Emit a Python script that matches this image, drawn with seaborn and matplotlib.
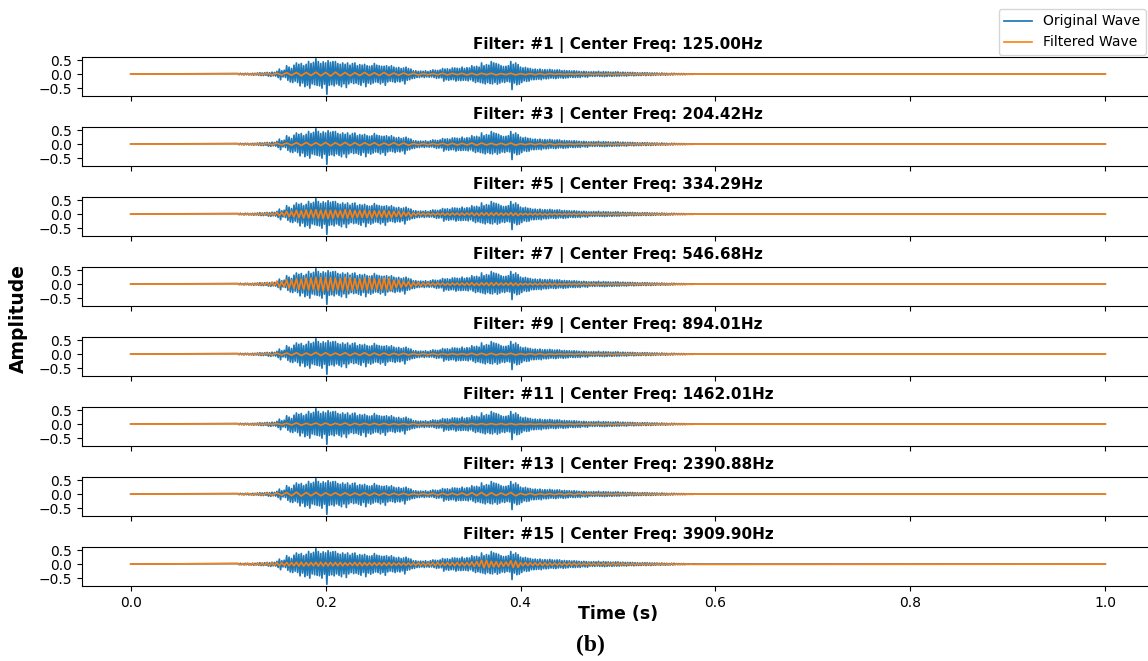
import matplotlib
matplotlib.use('Agg')
import matplotlib.pyplot as plt
import numpy as np
import seaborn as sns

plt.rcParams['path.simplify'] = False

# Filter info for each panel
filter_ids = [1, 3, 5, 7, 9, 11, 13, 15]
center_freqs = [125.00, 204.42, 334.29, 546.68, 894.01, 1462.01, 2390.88, 3909.90]

# Original wave peaks (x0.01), one row per 10 ms, sampled every 1.25 ms from 0.11 s
orig_wave = [
    2, -2, 3, -2, 2, -3, 3, -2,
    3, -3, 2, -3, 3, -4, 3, -3,
    4, -4, 5, -5, 4, -5, 5, -4,
    6, -7, 5, -8, 7, -6, 6, -7,
    10, -12, 18, -20, 12, -10, 14, -12,
    30, -22, 25, -28, 20, -30, 32, -25,
    40, -30, 35, -42, 38, -32, 30, -45,
    35, -40, 45, -50, 38, -35, 42, -38,
    55, -40, 45, -42, 38, -50, 44, -36,
    40, -72, 48, -40, 42, -38, 45, -42,
    45, -35, 38, -40, 35, -45, 40, -35,
    35, -48, 40, -35, 32, -30, 38, -34,
    40, -32, 30, -36, 34, -40, 32, -30,
    35, -45, 30, -32, 28, -36, 30, -32,
    38, -28, 32, -30, 30, -35, 28, -30,
    28, -40, 30, -28, 26, -25, 30, -27,
    25, -30, 22, -26, 24, -28, 20, -24,
    22, -35, 25, -22, 20, -20, 18, -16,
    12, -15, 12, -12, 10, -12, 11, -10,
    10, -12, 12, -10, 9, -11, 12, -10,
    15, -12, 14, -15, 13, -14, 15, -13,
    20, -25, 18, -20, 19, -22, 17, -20,
    22, -20, 22, -25, 21, -22, 20, -23,
    25, -22, 20, -22, 23, -24, 22, -20,
    30, -25, 26, -30, 28, -27, 25, -30,
    40, -32, 30, -35, 34, -30, 32, -34,
    45, -35, 40, -30, 38, -36, 35, -32,
    30, -28, 27, -30, 28, -26, 30, -28,
    45, -55, 35, -32, 40, -38, 34, -36,
    25, -30, 22, -24, 24, -26, 21, -25,
    20, -20, 17, -20, 18, -19, 16, -18,
    18, -20, 15, -16, 16, -17, 15, -16,
    17, -14, 15, -15, 14, -16, 15, -14,
    15, -13, 12, -15, 13, -14, 12, -13,
    12, -11, 11, -12, 12, -12, 11, -11,
    10, -12, 9, -9, 10, -10, 9, -11,
    8, -7, 8, -8, 9, -8, 8, -7,
    10, -8, 7, -8, 9, -9, 8, -8,
    8, -7, 7, -8, 7, -7, 8, -7,
    8, -7, 6, -6, 7, -6, 6, -7,
    6, -5, 6, -5, 6, -6, 5, -5,
    5, -5, 4, -5, 5, -4, 5, -5,
    5, -4, 4, -5, 4, -4, 4, -4,
    4, -3, 3, -4, 4, -3, 3, -4,
    3, -3, 2, -3, 3, -3, 3, -2,
    2, -2, 2, -2, 2, -2, 2, -2,
    1, -1, 1, -1, 1, -1, 1, 0,
]

# Filtered wave peaks (x0.01) from 0.11 s; sample spacing per filter in filt_steps
filt_1 = [
    1, -1, 1, -1, 1, -1, 2, -2,
    3, -3, 5, -4, 6, -6, 6, -5, 7, -6,
    6, -7, 7, -6, 6, -6, 5, -5, 6, -5,
    5, -5, 6, -5, 4, -4, 4, -3, 3, -3,
    2, -2, 2, -2, 3, -3, 3, -2, 3, -3,
    3, -3, 3, -2, 3, -3, 2, -2, 3, -3,
    2, -2, 2, -2, 2, -2, 2, -1, 1, -1,
    1, -1, 1, -1, 1, -1, 1, -1, 1, -1,
    1, -1, 1, -1, 1, -1, 1, -1, 0, 0,
    0, 0, 0, 0, 0, 0,
]
filt_3 = [
    1, -1, 1, -1, 1, -1, 2, -2,
    3, -3, 4, -4, 5, -5, 6, -5, 5, -5,
    6, -6, 5, -5, 6, -5, 5, -5, 5, -4,
    5, -5, 4, -4, 5, -4, 4, -4, 2, -2,
    2, -2, 2, -2, 3, -3, 3, -3, 3, -3,
    4, -4, 4, -3, 3, -3, 3, -3, 4, -4,
    2, -2, 2, -2, 2, -2, 2, -2, 1, -1,
    1, -1, 1, -1, 1, -1, 1, -1, 1, -1,
    1, -1, 1, -1, 1, -1, 1, -1, 1, -1,
    0, 0, 0, 0, 0, 0,
]
filt_5 = [
    1, -1, 1, -1, 1, -1, 1, -1, 2, -2, 2, -1, 3, -3, 2, -3,
    6, -5, 6, -6, 10, -9, 9, -10, 14, -13, 12, -14, 15, -14, 15, -13, 16, -15, 14, -16,
    15, -16, 14, -15, 14, -12, 13, -14, 16, -15, 15, -14, 13, -12, 13, -12, 14, -13, 12, -14,
    12, -11, 12, -12, 13, -12, 11, -13, 10, -9, 10, -10, 8, -7, 7, -8, 4, -4, 4, -3,
    3, -3, 3, -3, 3, -3, 3, -3, 4, -4, 3, -4, 4, -3, 4, -4, 4, -4, 4, -3,
    5, -5, 4, -5, 5, -4, 5, -5, 5, -5, 5, -4, 4, -4, 4, -4, 5, -5, 4, -5,
    3, -3, 3, -3, 3, -3, 3, -3, 3, -3, 2, -3, 2, -2, 2, -2, 2, -2, 2, -2,
    2, -2, 2, -2, 2, -2, 1, -2, 1, -1, 1, -1, 1, -1, 1, -1, 1, -1, 1, -1,
    1, -1, 1, -1, 1, -1, 1, -1, 1, -1, 1, -1, 1, -1, 1, -1, 1, -1, 1, -1,
    1, -1, 0, 0, 0, 0, 0, 0, 0, 0, 0, 0,
]
filt_7 = [
    1, -1, 1, -1, 2, -2, 2, -2, 3, -3, 3, -2, 5, -4, 5, -5,
    10, -9, 9, -10, 15, -14, 14, -15, 20, -19, 18, -20, 22, -21, 22, -20, 25, -23, 24, -25,
    24, -24, 23, -22, 22, -21, 20, -22, 25, -24, 24, -23, 20, -20, 19, -21, 22, -21, 22, -20,
    20, -19, 18, -20, 22, -21, 20, -22, 14, -13, 14, -12, 10, -9, 9, -10, 6, -6, 5, -6,
    4, -4, 4, -4, 4, -4, 4, -3, 4, -4, 3, -4, 4, -3, 4, -4, 4, -4, 4, -4,
    5, -5, 4, -5, 5, -4, 5, -5, 5, -5, 5, -4, 4, -4, 4, -4, 5, -5, 4, -5,
    3, -3, 3, -3, 3, -3, 3, -3, 3, -3, 3, -3, 3, -3, 3, -3, 2, -2, 2, -2,
    2, -2, 2, -2, 2, -2, 2, -2, 2, -2, 2, -2, 1, -1, 1, -1, 1, -1, 1, -1,
    1, -1, 1, -1, 1, -1, 1, -1, 1, -1, 1, -1, 1, -1, 1, -1, 1, -1, 1, -1,
    1, -1, 1, -1, 0, 0, 0, 0, 0, 0, 0, 0,
]
filt_9 = [
    1, -1, 1, -1, 1, -1, 2, -2,
    3, -3, 4, -4, 5, -5, 4, -4, 6, -5,
    5, -5, 4, -4, 5, -5, 4, -4, 5, -5,
    4, -4, 4, -4, 3, -3, 3, -3, 2, -2,
    2, -2, 2, -2, 2, -2, 2, -2, 2, -2,
    3, -3, 3, -3, 3, -3, 2, -2, 3, -3,
    2, -2, 2, -2, 2, -2, 1, -1, 1, -1,
    1, -1, 1, -1, 1, -1, 1, -1, 1, -1,
    1, -1, 1, -1, 1, -1, 1, -1, 0, 0,
    0, 0, 0, 0, 0, 0,
]
filt_11 = [
    1, -1, 1, -1, 1, -1, 1, -1,
    2, -2, 3, -3, 4, -4, 3, -3, 4, -4,
    4, -4, 3, -3, 4, -4, 3, -3, 3, -3,
    3, -3, 3, -3, 2, -2, 2, -2, 2, -2,
    1, -1, 1, -1, 2, -2, 2, -2, 2, -2,
    2, -2, 2, -2, 2, -2, 2, -2, 2, -2,
    1, -1, 1, -1, 1, -1, 1, -1, 1, -1,
    1, -1, 1, -1, 1, -1, 1, -1, 1, -1,
    1, -1, 1, -1, 1, -1, 1, -1, 0, 0,
    0, 0, 0, 0, 0, 0,
]
filt_13 = [
    1, -1, 2, -2, 2, -2, 3, -3,
    4, -4, 6, -6, 7, -7, 6, -6, 6, -6,
    5, -5, 5, -5, 5, -5, 4, -4, 5, -5,
    4, -4, 4, -4, 3, -3, 3, -3, 2, -2,
    2, -2, 3, -3, 3, -3, 3, -3, 4, -4,
    5, -5, 6, -6, 5, -5, 4, -4, 6, -6,
    3, -3, 3, -3, 2, -2, 2, -2, 2, -2,
    2, -2, 2, -2, 1, -1, 1, -1, 1, -1,
    1, -1, 1, -1, 1, -1, 1, -1, 1, -1,
    0, 0, 0, 0, 0, 0,
]
filt_15 = [
    2, -2, 2, -2, 3, -3, 3, -3, 3, -3, 3, -3, 4, -4, 4, -4,
    5, -5, 5, -5, 6, -6, 6, -6, 7, -7, 7, -7, 6, -6, 6, -6, 7, -7, 7, -7,
    6, -6, 6, -6, 6, -6, 6, -6, 5, -5, 5, -5, 6, -6, 6, -6, 5, -5, 5, -5,
    5, -5, 5, -5, 5, -5, 5, -5, 4, -4, 4, -4, 4, -4, 4, -4, 4, -4, 4, -4,
    4, -4, 4, -4, 5, -5, 5, -5, 5, -5, 5, -5, 6, -6, 6, -6, 6, -6, 6, -6,
    8, -8, 9, -8, 14, -13, 14, -12, 10, -10, 9, -10, 8, -8, 8, -7, 12, -12, 11, -12,
    6, -6, 6, -6, 5, -5, 5, -5, 5, -5, 5, -5, 4, -4, 4, -4, 4, -4, 4, -4,
    4, -4, 4, -4, 3, -3, 3, -3, 3, -3, 3, -3, 3, -3, 3, -3, 3, -3, 3, -3,
    3, -3, 3, -3, 2, -2, 2, -2, 2, -2, 2, -2, 2, -2, 2, -2, 2, -2, 2, -2,
    2, -2, 2, -2, 1, -1, 1, -1, 1, -1, 1, -1,
]
filtered = [filt_1, filt_3, filt_5, filt_7, filt_9, filt_11, filt_13, filt_15]
filt_steps = [0.005, 0.005, 0.0025, 0.0025, 0.005, 0.005, 0.005, 0.0025]


def full_signal(values, start, step):
    # sample times for the listed peaks, plus silent ends at 0 s and 1 s
    t = start + step * np.arange(len(values))
    t = np.concatenate([[0.0], t, [1.0]])
    y = np.concatenate([[0.0], np.array(values) / 100.0, [0.0]])
    return t, y


t_o, y_o = full_signal(orig_wave, 0.11, 0.00125)
colors = sns.color_palette()

fig = plt.figure(figsize=(11.48, 6.61), dpi=100)
H = 661.0
axes = []
for i, (fid, fc, fv, fs) in enumerate(zip(filter_ids, center_freqs, filtered, filt_steps)):
    top = 57 + 70 * i
    ax = fig.add_axes([82 / 1148, 1 - (top + 39) / H, 1072 / 1148, 39 / H],
                      sharex=axes[0] if axes else None)
    axes.append(ax)
    t_f, y_f = full_signal(fv, 0.11, fs)
    sns.lineplot(x=t_o, y=y_o, ax=ax, color=colors[0], linewidth=1.25,
                 label='Original Wave', estimator=None, sort=False, legend=False)
    sns.lineplot(x=t_f, y=y_f, ax=ax, color=colors[1], linewidth=1.2,
                 label='Filtered Wave', estimator=None, sort=False, legend=False)
    ax.set_title(f'Filter: #{fid} | Center Freq: {fc:.2f}Hz', fontsize=11, fontweight='bold')
    ax.set_xlabel('')
    ax.set_ylabel('')
    ax.set_yticks([-0.5, 0.0, 0.5])
    ax.tick_params(labelsize=10)
    if i < len(filter_ids) - 1:
        ax.tick_params(labelbottom=False)

handles, labels = axes[0].get_legend_handles_labels()
fig.legend(handles, labels, loc='upper right', fontsize=10, bbox_to_anchor=(1.004, 0.997))

fig.text(0.538, 0.071, 'Time (s)', ha='center', va='center', fontsize=12.5, fontweight='bold')
fig.text(0.016, 0.518, 'Amplitude', ha='center', va='center', rotation=90,
         fontsize=13.5, fontweight='bold')
fig.text(0.514, 0.024, '(b)', ha='center', va='center', fontsize=17,
         family='Liberation Serif', fontweight='bold')

fig.savefig('out.png', dpi=100)
